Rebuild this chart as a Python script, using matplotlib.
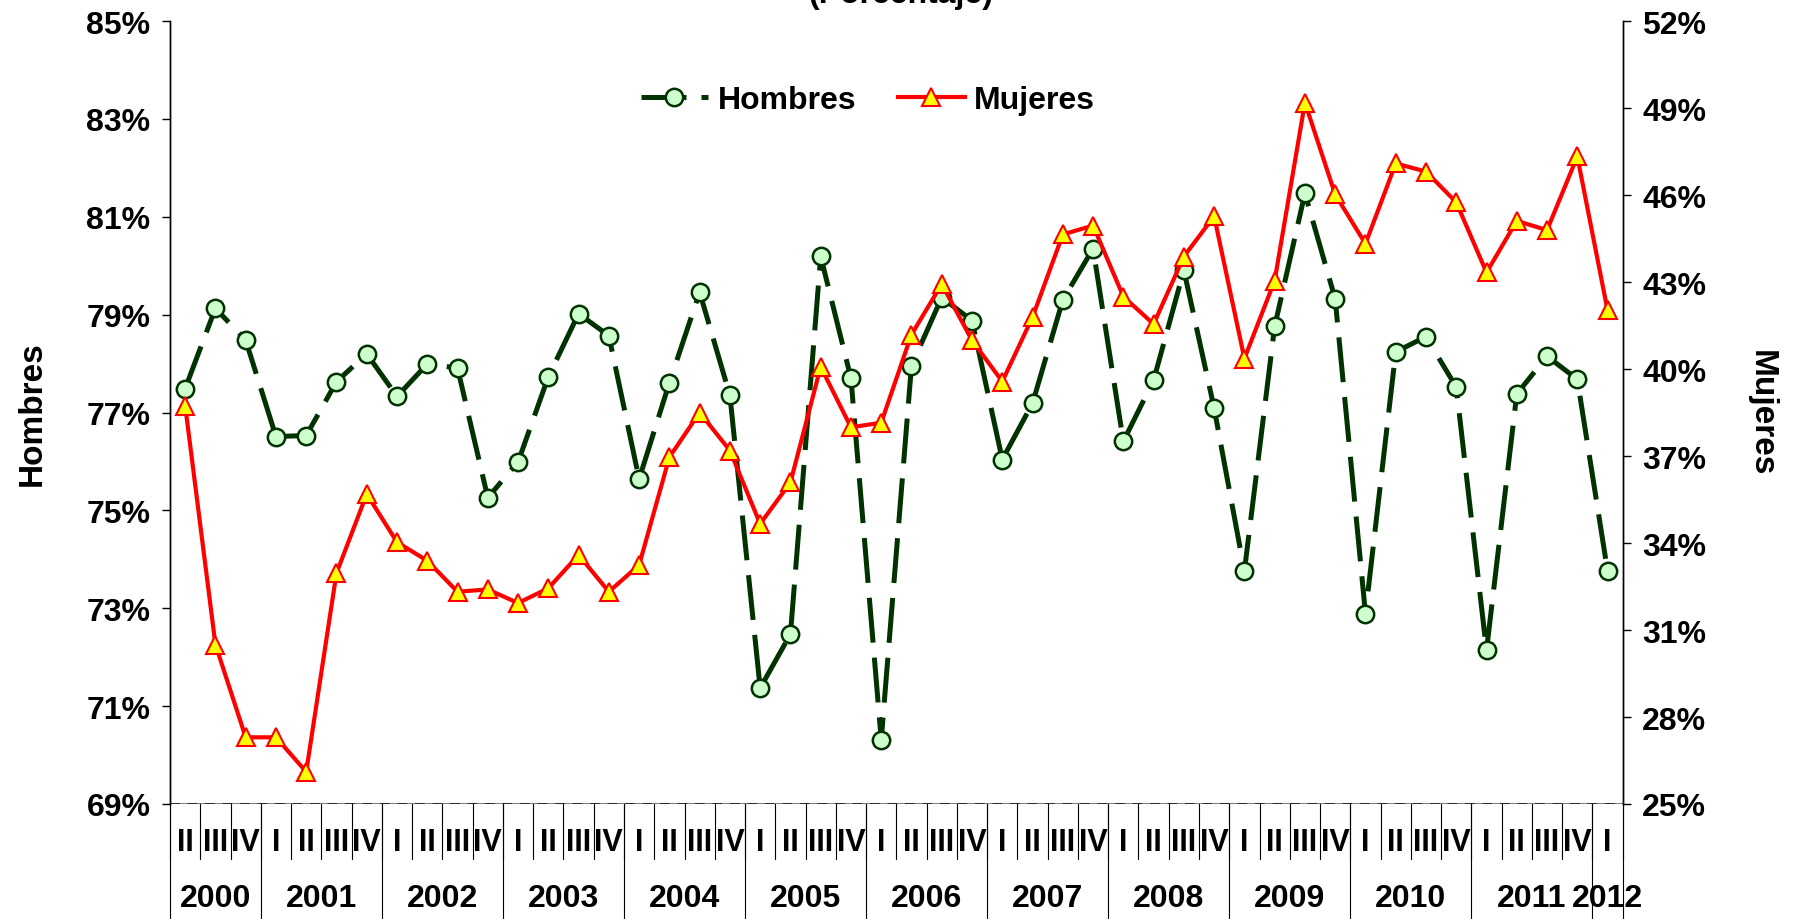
import matplotlib
matplotlib.use("Agg")
import matplotlib.pyplot as plt
import matplotlib.transforms as mtransforms
from matplotlib.ticker import FuncFormatter

plt.rcParams['font.family'] = ['Liberation Sans', 'DejaVu Sans']
plt.rcParams['font.weight'] = 'bold'

# Quarters 2000 II .. 2012 I
years = ['2000', '2001', '2002', '2003', '2004', '2005', '2006',
         '2007', '2008', '2009', '2010', '2011', '2012']
quarters_per_year = [3, 4, 4, 4, 4, 4, 4, 4, 4, 4, 4, 4, 1]
quarter_labels = (['II', 'III', 'IV'] + ['I', 'II', 'III', 'IV'] * 11 + ['I'])

hombres = [77.49, 79.13, 78.48,
           76.51, 76.53, 77.63, 78.20,
           77.33, 77.99, 77.91, 75.26,
           75.99, 77.73, 79.02, 78.57,
           75.64, 77.61, 79.46, 77.35,
           71.37, 72.47, 80.19, 77.70,
           70.31, 77.96, 79.35, 78.88,
           76.04, 77.19, 79.30, 80.35,
           76.41, 77.66, 79.91, 77.09,
           73.76, 78.76, 81.48, 79.32,
           72.89, 78.24, 78.55, 77.52,
           72.14, 77.38, 78.15, 77.68,
           73.76]

mujeres = [38.74, 30.50, 27.30,
           27.30, 26.11, 32.96, 35.69,
           34.03, 33.39, 32.32, 32.40,
           31.93, 32.44, 33.59, 32.32,
           33.24, 36.96, 38.50, 37.19,
           34.66, 36.09, 40.08, 37.99,
           38.15, 41.19, 42.93, 40.99,
           39.57, 41.79, 44.64, 44.95,
           42.50, 41.55, 43.88, 45.27,
           40.36, 43.05, 49.19, 46.02,
           44.32, 47.09, 46.81, 45.75,
           43.33, 45.11, 44.79, 47.33,
           42.02]

x = list(range(len(hombres)))
n = len(x)

fig = plt.figure(figsize=(18.01, 9.2), dpi=100)
ax = fig.add_axes([0.0944, 0.125, 0.8066, 0.851])
ax2 = ax.twinx()

h_line, = ax.plot(x, hombres, color='#003300', lw=3.6, dashes=(9, 3),
                  marker='o', markersize=12.5, markerfacecolor='#CCFFCC',
                  markeredgecolor='#003300', markeredgewidth=1.8,
                  label='Hombres', zorder=3)
m_line, = ax2.plot(x, mujeres, color='#FF0000', lw=3.0,
                   marker='^', markersize=13, markerfacecolor='#FFFF00',
                   markeredgecolor='#FF0000', markeredgewidth=1.5,
                   label='Mujeres', zorder=3)

ax.set_xlim(-0.5, n - 0.5)
ax.set_ylim(69, 85)
ax2.set_ylim(25, 52)
ax.set_yticks(range(69, 86, 2))
ax2.set_yticks(range(25, 53, 3))
pct = FuncFormatter(lambda v, p: f'{v:.0f}%')
ax.yaxis.set_major_formatter(pct)
ax2.yaxis.set_major_formatter(pct)
ax.tick_params(axis='y', labelsize=23, length=6, width=1, pad=8)
ax2.tick_params(axis='y', labelsize=23, length=6, width=1, pad=8)
ax.set_xticks([])

for a in (ax, ax2):
    a.spines['top'].set_visible(False)
    a.spines['bottom'].set_visible(False)
    a.spines['left'].set_linewidth(1)
    a.spines['right'].set_linewidth(1)

ax.axhline(69, color='#808080', lw=2.2, zorder=1)
ax.axhline(69, color='#1F2F3F', lw=1.4, dashes=(5, 4), zorder=1)

ax.set_ylabel('Hombres', fontsize=24, fontweight='bold', labelpad=28)
ax2.set_ylabel('Mujeres', fontsize=24, fontweight='bold', rotation=270,
               labelpad=51)

# category axis drawn below the plot
trans = mtransforms.blended_transform_factory(ax.transData, fig.transFigure)
q_bottom = 1 - 860 / 920
for i in range(n + 1):
    ax.plot([i - 0.5, i - 0.5], [0.125, q_bottom], transform=trans,
            color='black', lw=0.8, clip_on=False)
for i, lab in enumerate(quarter_labels):
    ax.text(i, 1 - 843 / 920, lab, transform=trans, ha='center', va='center',
            fontsize=22, fontweight='bold')

start = 0
for yr, cnt in zip(years, quarters_per_year):
    ax.plot([start - 0.5, start - 0.5], [0.125, 0.0], transform=trans,
            color='black', lw=0.8, clip_on=False)
    ax.text(start + (cnt - 1) / 2, 1 - 899 / 920, yr, transform=trans,
            ha='center', va='center', fontsize=23, fontweight='bold')
    start += cnt
ax.plot([n - 0.5, n - 0.5], [0.125, 0.0], transform=trans,
        color='black', lw=0.8, clip_on=False)

fig.legend(handles=[h_line, m_line], loc='center',
           bbox_to_anchor=(868 / 1801, 1 - 101 / 920), ncol=2, frameon=False,
           fontsize=23, handlelength=2.1, columnspacing=1.3, handletextpad=0.3)

fig.text(0.5, 1 - 3 / 920, '(Porcentaje)', ha='center', va='baseline',
         fontsize=23, fontweight='bold')

fig.savefig('out.png', dpi=100)
